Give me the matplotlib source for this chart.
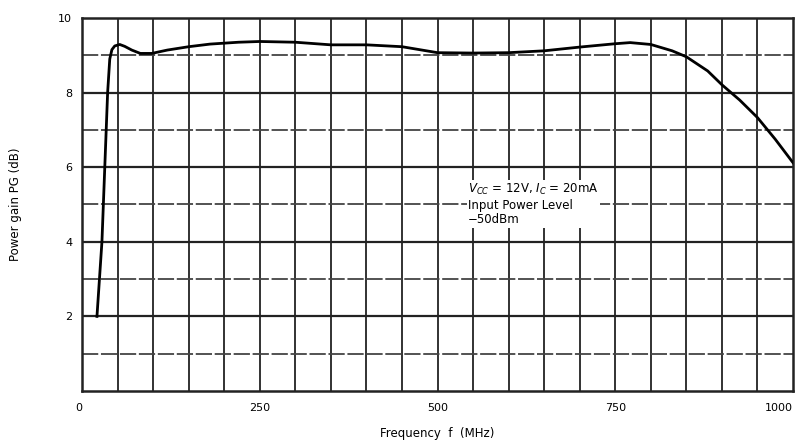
import matplotlib.pyplot as plt

# curve (MHz, dB)
freq = [21, 24.5, 28, 32, 36, 39, 42, 46, 53, 60, 70, 82, 98, 120, 150, 180, 220,
        250, 300, 350, 400, 450, 500, 550, 600, 650, 700, 750, 771, 800, 830,
        850, 880, 900, 925, 950, 975, 1000]
gain = [2.0, 3.0, 4.0, 6.0, 8.0, 8.9, 9.15, 9.25, 9.29, 9.24, 9.14, 9.05, 9.05, 9.14, 9.23, 9.30, 9.35,
        9.37, 9.35, 9.28, 9.28, 9.23, 9.07, 9.06, 9.07, 9.12, 9.22, 9.31, 9.34, 9.29, 9.12,
        8.96, 8.58, 8.21, 7.8, 7.33, 6.75, 6.12]

xticks = [0, 250, 500, 750, 1000]
yticks = [2, 4, 6, 8, 10]

fig = plt.figure(figsize=(8.05, 4.43), dpi=100)
ax = fig.add_axes([0.1019, 0.1174, 0.8832, 0.842])

ax.set_xlim(0, 1000)
ax.set_ylim(0, 10)

# graph paper grid
for x in range(50, 1000, 50):
    ax.axvline(x, color="#222222", lw=1.3, zorder=1)
for y in range(1, 10):
    if y % 2 == 0:
        ax.axhline(y, color="#222222", lw=1.6, zorder=1)
    else:
        ax.axhline(y, color="#444444", lw=1.3, ls=(0, (9, 1.5)), zorder=1)

ax.plot(freq, gain, color="black", lw=2.0, zorder=3)

for s in ax.spines.values():
    s.set_linewidth(1.8)
    s.set_color("#222222")

ax.set_xticks(xticks)
ax.set_yticks(yticks)
ax.tick_params(length=0, labelsize=8, pad=9)
ax.tick_params(axis="y", pad=7)
ax.get_xticklabels()[-1].set_horizontalalignment("right")
ax.get_xticklabels()[0].set_horizontalalignment("right")

ax.set_xlabel("Frequency  f  (MHz)", fontsize=8.5, labelpad=10)
ax.set_ylabel("Power gain PG (dB)", fontsize=8.5, labelpad=26)

ax.text(543, 5.6, "$V_{CC}$ = 12V, $I_C$ = 20mA\nInput Power Level\n\u221250dBm",
        fontsize=8.5, va="top", ha="left", linespacing=1.15,
        bbox=dict(facecolor="white", edgecolor="none", pad=1), zorder=4)

fig.savefig("out.png", dpi=100)
